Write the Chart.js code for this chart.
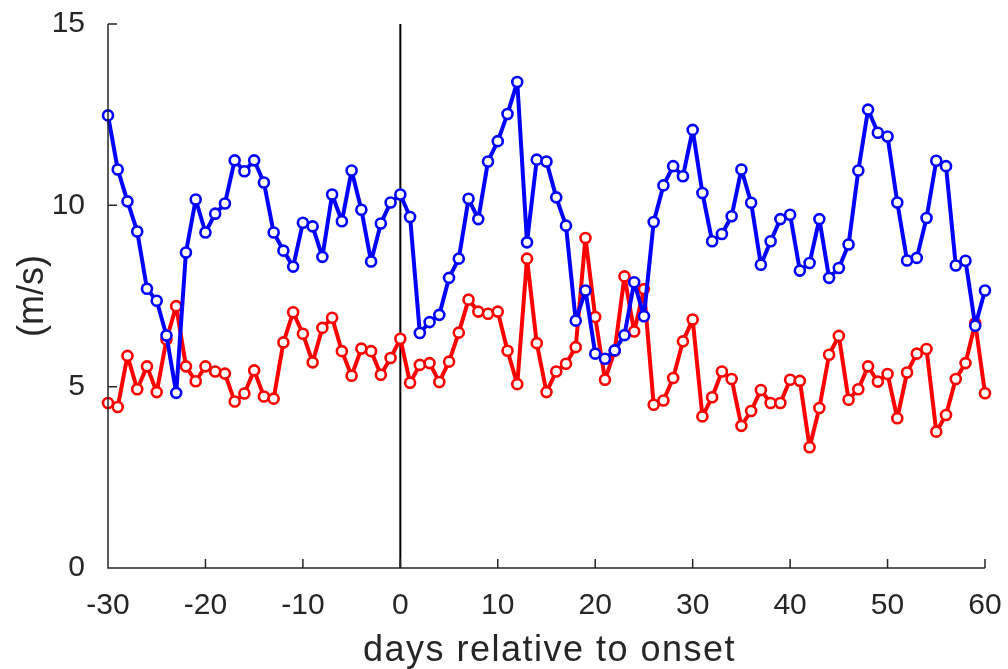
<!DOCTYPE html>
<html>
<head>
<meta charset="utf-8">
<script src="https://cdn.jsdelivr.net/npm/chart.js@4/dist/chart.umd.min.js"></script>
<style>
  html, body { margin: 0; padding: 0; background: #ffffff; }
  #wrap { width: 1008px; height: 669px; }
</style>
</head>
<body>
<div id="wrap"><canvas id="c" width="1008" height="669"></canvas></div>
<script>
// Day offsets relative to onset
const days = [-30,-29,-28,-27,-26,-25,-24,-23,-22,-21,-20,-19,-18,-17,-16,-15,-14,-13,-12,-11,
  -10,-9,-8,-7,-6,-5,-4,-3,-2,-1,0,1,2,3,4,5,6,7,8,9,10,11,12,13,14,15,16,17,18,19,20,
  21,22,23,24,25,26,27,28,29,30,31,32,33,34,35,36,37,38,39,40,41,42,43,44,45,46,47,48,49,50,
  51,52,53,54,55,56,57,58,59,60];

// Wind speed (m/s), upper series
const blueSpeed = [12.48,10.99,10.11,9.28,7.70,7.37,6.41,4.83,8.70,10.16,9.25,9.77,10.05,11.24,10.94,11.24,10.63,9.25,8.75,8.31,
  9.52,9.42,8.58,10.30,9.56,10.96,9.88,8.45,9.50,10.08,10.30,9.68,6.48,6.78,6.98,8.00,8.53,10.18,9.62,11.21,11.77,
  12.52,13.40,8.98,11.26,11.21,10.22,9.44,6.82,7.65,5.91,5.77,6.00,6.42,7.88,6.94,9.54,10.55,11.08,10.80,12.08,
  10.34,9.01,9.21,9.70,10.99,10.07,8.36,9.01,9.62,9.74,8.20,8.41,9.62,8.00,8.27,8.92,10.96,12.64,12.00,11.90,
  10.08,8.48,8.55,9.65,11.23,11.08,8.34,8.47,6.68,7.65];

// Wind speed (m/s), lower series
const redSpeed = [4.55,4.44,5.85,4.93,5.56,4.85,6.30,7.22,5.56,5.15,5.56,5.42,5.36,4.59,4.81,5.45,4.73,4.67,6.22,7.05,
  6.46,5.67,6.62,6.90,5.98,5.30,6.05,5.98,5.33,5.79,6.32,5.11,5.60,5.65,5.13,5.69,6.49,7.40,7.07,7.01,7.07,
  5.99,5.07,8.53,6.20,4.85,5.42,5.63,6.09,9.10,6.92,5.19,5.99,8.04,6.52,7.69,4.50,4.62,5.24,6.25,6.85,
  4.18,4.71,5.42,5.21,3.92,4.33,4.91,4.55,4.55,5.19,5.16,3.33,4.41,5.88,6.40,4.64,4.93,5.56,5.14,5.35,
  4.13,5.39,5.91,6.04,3.76,4.22,5.21,5.65,6.75,4.82];

const xTicks = [-30,-20,-10,0,10,20,30,40,50,60];
const yTicks = [0,5,10,15];
const onsetDay = 0;
const xTitle = 'days relative to onset';
const yTitle = '(m/s)';

const axisColor = '#262626';
const fontFamily = '"Liberation Sans", Arial, sans-serif';

function pairs(xs, ys) { return xs.map((x, i) => ({ x: x, y: ys[i] })); }

// Onset marker line, axis lines with inward ticks, and axis titles
const axesPlugin = {
  id: 'axesInward',
  beforeDatasetsDraw(chart) {
    const { ctx, chartArea: a, scales: { x } } = chart;
    const px = x.getPixelForValue(onsetDay);
    ctx.save();
    ctx.strokeStyle = '#000000';
    ctx.lineWidth = 2;
    ctx.beginPath();
    ctx.moveTo(px, a.top);
    ctx.lineTo(px, a.bottom);
    ctx.stroke();
    ctx.restore();
  },
  afterDraw(chart) {
    const { ctx, chartArea: a, scales: { x, y } } = chart;
    ctx.save();
    ctx.strokeStyle = axisColor;
    ctx.lineWidth = 1.5;
    ctx.beginPath();
    ctx.moveTo(a.left, a.top);
    ctx.lineTo(a.left, a.bottom);
    ctx.lineTo(a.right, a.bottom);
    xTicks.forEach(t => {
      const p = x.getPixelForValue(t);
      ctx.moveTo(p, a.bottom);
      ctx.lineTo(p, a.bottom - 9);
    });
    yTicks.forEach(t => {
      const p = y.getPixelForValue(t);
      ctx.moveTo(a.left, p);
      ctx.lineTo(a.left + 9, p);
    });
    ctx.stroke();

    ctx.fillStyle = axisColor;
    ctx.font = '36px ' + fontFamily;
    ctx.textAlign = 'center';
    ctx.textBaseline = 'alphabetic';
    ctx.letterSpacing = '1.5px';
    ctx.fillText(xTitle, (a.left + a.right) / 2 + 3, 661);

    ctx.letterSpacing = '0px';
    ctx.translate(33, (a.top + a.bottom) / 2);
    ctx.rotate(-Math.PI / 2);
    ctx.textBaseline = 'middle';
    ctx.fillText(yTitle, 0, 0);
    ctx.restore();
  }
};

const tickFont = { family: fontFamily, size: 30 };

function seriesStyle(color) {
  return {
    borderColor: color,
    backgroundColor: '#ffffff',
    pointBackgroundColor: '#ffffff',
    pointBorderColor: color,
    borderWidth: 4,
    borderJoinStyle: 'round',
    pointRadius: 5,
    pointBorderWidth: 2.6,
    tension: 0,
    clip: false
  };
}

new Chart(document.getElementById('c'), {
  type: 'line',
  data: {
    datasets: [
      Object.assign({ data: pairs(days, blueSpeed) }, seriesStyle('#0000ff')),
      Object.assign({ data: pairs(days, redSpeed) }, seriesStyle('#ff0000'))
    ]
  },
  options: {
    responsive: false,
    animation: false,
    devicePixelRatio: 1,
    layout: { padding: { left: 0, top: 24, right: 23, bottom: 0 } },
    plugins: { legend: { display: false }, tooltip: { enabled: false } },
    scales: {
      x: {
        type: 'linear',
        min: -30, max: 60,
        grid: { display: false },
        border: { display: false },
        afterBuildTicks(s) { s.ticks = xTicks.map(v => ({ value: v })); },
        afterFit(s) { s.height = 101; s.paddingLeft = 0; s.paddingRight = 0; },
        ticks: { font: tickFont, color: axisColor, padding: 12, maxRotation: 0, autoSkip: false }
      },
      y: {
        type: 'linear',
        min: 0, max: 15,
        grid: { display: false },
        border: { display: false },
        afterBuildTicks(s) { s.ticks = yTicks.map(v => ({ value: v })); },
        afterFit(s) { s.width = 108; s.paddingTop = 0; s.paddingBottom = 0; },
        ticks: { font: tickFont, color: axisColor, padding: 15 }
      }
    }
  },
  plugins: [axesPlugin]
});
</script>
</body>
</html>
